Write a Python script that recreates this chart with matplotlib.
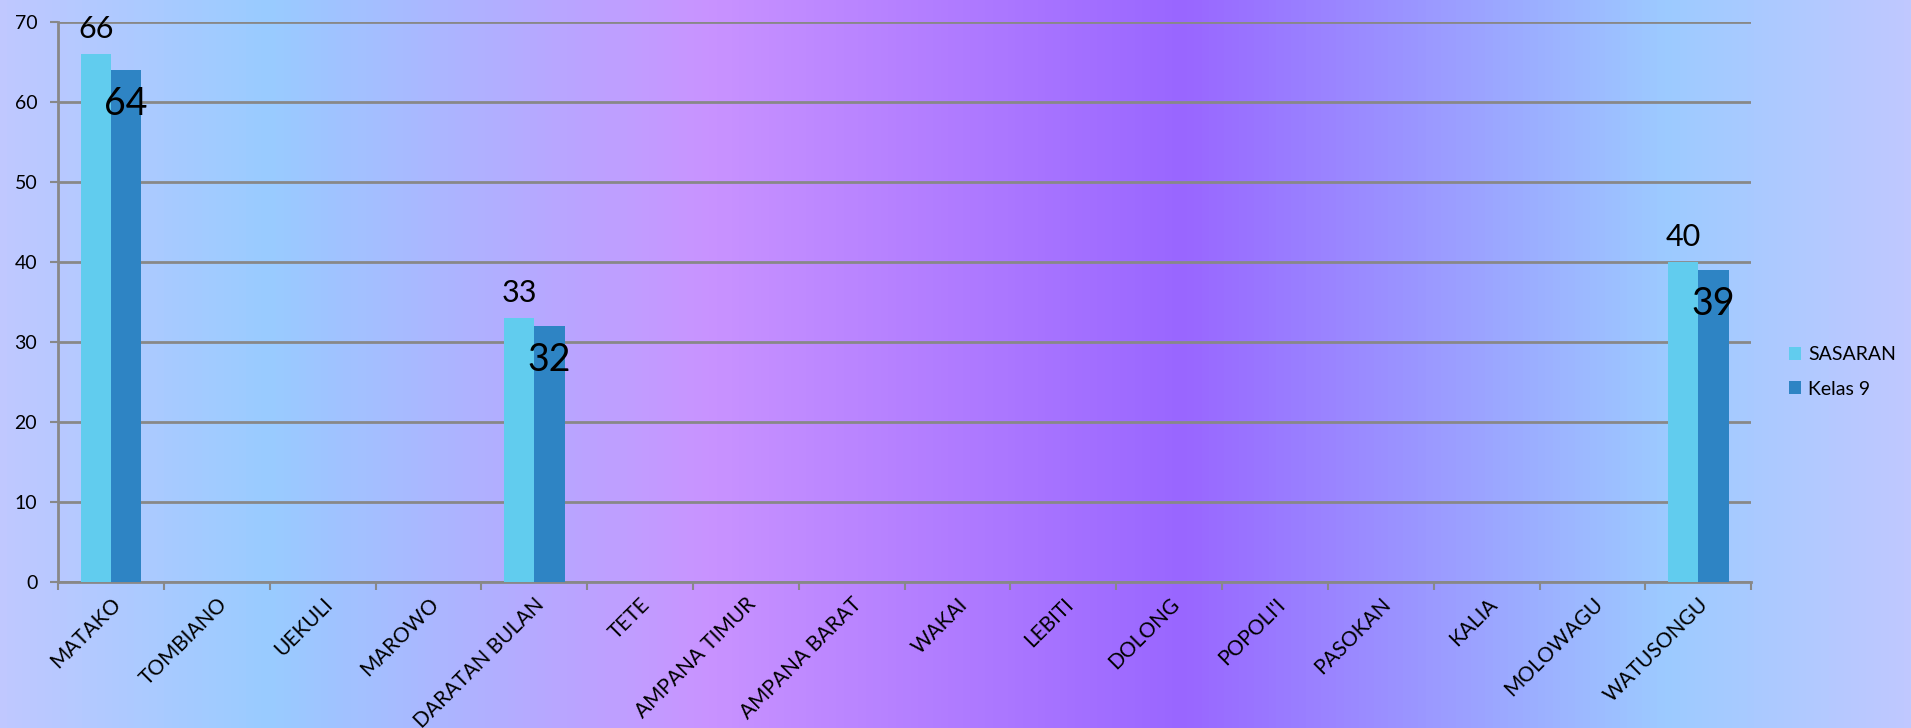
import matplotlib.pyplot as plt
import numpy as np
from matplotlib.colors import LinearSegmentedColormap

categories = ["MATAKO", "TOMBIANO", "UEKULI", "MAROWO", "DARATAN BULAN", "TETE",
              "AMPANA TIMUR", "AMPANA BARAT", "WAKAI", "LEBITI", "DOLONG",
              "POPOLI'I", "PASOKAN", "KALIA", "MOLOWAGU", "WATUSONGU"]
sasaran = [66, None, None, None, 33, None, None, None, None, None, None,
           None, None, None, None, 40]
kelas9 = [64, None, None, None, 32, None, None, None, None, None, None,
          None, None, None, None, 39]

plt.rcParams['font.family'] = ['Lato', 'DejaVu Sans']

fig = plt.figure(figsize=(19.11, 7.28), dpi=100)

# background gradient across the whole figure
bg = fig.add_axes([0, 0, 1, 1], zorder=-10)
cmap = LinearSegmentedColormap.from_list("bg", [
    (0.0, "#c0c8ff"), (0.14, "#99ccff"), (0.37, "#c993ff"),
    (0.62, "#9966ff"), (0.875, "#9dcbff"), (1.0, "#c0c8ff")])
bg.imshow(np.linspace(0, 1, 512)[None, :], aspect="auto", cmap=cmap,
          extent=[0, 1, 0, 1])
bg.axis("off")

ax = fig.add_axes([0.0304, 0.201, 0.886, 0.769])
ax.set_facecolor("none")

x = np.arange(len(categories))
s = np.array([np.nan if v is None else v for v in sasaran], dtype=float)
k = np.array([np.nan if v is None else v for v in kelas9], dtype=float)
w = 0.288
ax.bar(x - w / 2, s, w, color="#61ccee", label="SASARAN", zorder=3)
ax.bar(x + w / 2, k, w, color="#2e84c4", label="Kelas 9", zorder=3)

for i in range(len(categories)):
    if not np.isnan(s[i]):
        ax.annotate(f"{int(s[i])}", (x[i] - w / 2, s[i]), xytext=(0, 8),
                    textcoords="offset points", ha="center", va="bottom",
                    fontsize=22, zorder=5)
    if not np.isnan(k[i]):
        ax.annotate(f"{int(k[i])}", (x[i] + w / 2, k[i]), xytext=(0, -12),
                    textcoords="offset points", ha="center", va="top",
                    fontsize=27, zorder=5)

ax.set_xlim(-0.5, len(categories) - 0.5)
ax.set_ylim(0, 70)
ax.set_yticks(range(0, 71, 10))
ax.yaxis.grid(True, color="#888888", linewidth=2)
ax.set_axisbelow(True)

for side in ["top", "right"]:
    ax.spines[side].set_visible(False)
for side in ["left", "bottom"]:
    ax.spines[side].set_color("#888888")
    ax.spines[side].set_linewidth(2)

ax.tick_params(axis="y", length=6, width=1.5, color="#888888",
               labelsize=14, pad=9)
ax.set_xticks(x)
ax.set_xticklabels(categories, rotation=45, ha="right",
                   rotation_mode="anchor", fontsize=15)
ax.set_xticks(np.arange(-0.5, len(categories), 1), minor=True)
ax.tick_params(axis="x", which="major", length=0, pad=9)
ax.tick_params(axis="x", which="minor", length=6, width=1.5, color="#888888")

fig.legend(loc="center left", bbox_to_anchor=(0.932, 0.489), frameon=False,
           fontsize=14, handlelength=0.65, handleheight=0.65,
           handletextpad=0.35, labelspacing=0.9, borderaxespad=0)

fig.savefig("out.png", dpi=100)
